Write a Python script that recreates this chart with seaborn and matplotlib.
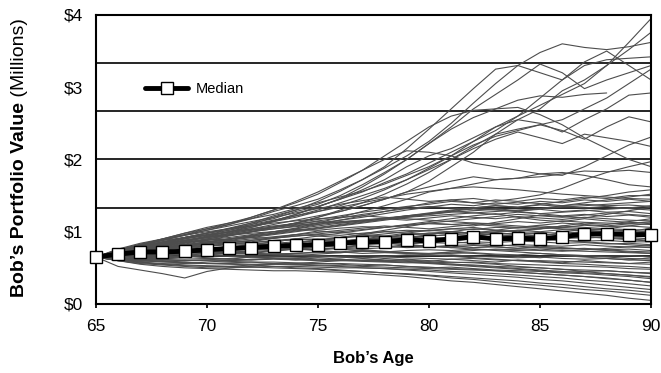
import numpy as np
import pandas as pd
import matplotlib
matplotlib.use("Agg")
import matplotlib.pyplot as plt
import seaborn as sns

sns.set_theme(style="white")
plt.rcParams['font.family'] = ['Liberation Sans', 'DejaVu Sans']
plt.rcParams['text.color'] = 'black'
plt.rcParams['axes.labelcolor'] = 'black'
plt.rcParams['xtick.color'] = 'black'
plt.rcParams['ytick.color'] = 'black'

ages = list(range(65, 91))

# median path (white squares)
median = [0.65, 0.69, 0.72, 0.72, 0.73, 0.75, 0.77, 0.78, 0.80, 0.81, 0.82, 0.84, 0.86,
          0.86, 0.89, 0.87, 0.90, 0.93, 0.90, 0.91, 0.90, 0.93, 0.97, 0.97, 0.96, 0.96]

nan = np.nan
# simulated portfolio paths, $ millions, one value per age 65..90
high_paths = [
    [0.65, 0.72, 0.80, 0.86, 0.92, 0.98, 1.05, 1.12, 1.18, 1.28, 1.35, 1.45, 1.58, 1.72, 1.90, 2.05, 2.15, 2.30, 2.45, 2.60, 2.75, 2.90, 3.05, 3.30, 3.62, 3.95],
    [0.65, 0.74, 0.82, 0.90, 0.98, 1.04, 1.10, 1.18, 1.28, 1.36, 1.45, 1.58, 1.72, 1.88, 2.05, 2.25, 2.50, 2.78, 3.05, 3.30, 3.48, 3.60, 3.55, 3.52, 3.56, 3.62],
    [0.65, 0.72, 0.78, 0.85, 0.92, 0.98, 1.02, 1.10, 1.20, 1.30, 1.42, 1.56, 1.72, 1.90, 2.15, 2.42, 2.70, 2.98, 3.25, 3.30, 3.20, 3.10, 3.35, 3.50, 3.30, 3.10],
    [0.65, 0.70, 0.76, 0.82, 0.88, 0.92, 0.98, 1.04, 1.10, 1.16, 1.22, 1.28, 1.36, 1.45, 1.55, 1.70, 1.90, 2.10, 2.35, 2.55, 2.70, 2.95, 3.10, 3.30, 3.52, 3.76],
    [0.65, 0.70, 0.76, 0.84, 0.92, 0.98, 1.04, 1.12, 1.22, 1.30, 1.38, 1.50, 1.65, 1.82, 2.00, 2.22, 2.45, 2.70, 2.90, 3.10, 3.32, 3.20, 2.98, 3.10, 3.20, 3.30],
    [0.65, 0.71, 0.77, 0.83, 0.90, 0.95, 1.00, 1.06, 1.14, 1.20, 1.28, 1.36, 1.46, 1.58, 1.72, 1.88, 2.05, 2.25, 2.45, 2.55, 2.50, 2.38, 2.55, 2.70, 2.89, 2.92],
    [0.65, 0.70, 0.75, 0.80, 0.86, 0.93, 1.00, 1.08, 1.15, 1.24, 1.34, 1.46, 1.62, 1.80, 2.00, 2.22, 2.42, 2.58, 2.70, 2.82, 2.88, 2.86, 2.90, 2.92, nan, nan],
    [0.65, 0.69, 0.74, 0.79, 0.84, 0.90, 0.95, 1.00, 1.06, 1.12, 1.20, 1.30, 1.40, 1.52, 1.66, 1.82, 2.00, 2.18, 2.35, 2.42, 2.48, 2.40, 2.28, 2.45, 2.59, 2.52],
    [0.65, 0.73, 0.81, 0.88, 0.95, 1.02, 1.10, 1.20, 1.30, 1.40, 1.52, 1.68, 1.85, 2.05, 2.25, 2.45, 2.60, 2.68, 2.70, 2.72, 2.62, 2.48, 2.30, 2.15, 2.00, 1.90],
    [0.65, 0.68, 0.73, 0.78, 0.82, 0.86, 0.90, 0.95, 1.00, 1.05, 1.12, 1.20, 1.28, 1.36, 1.45, 1.55, 1.60, 1.66, 1.72, 1.74, 1.80, 1.78, 1.90, 2.05, 2.20, 2.31],
    [0.65, 0.68, 0.72, 0.76, 0.80, 0.85, 0.90, 0.94, 0.98, 1.04, 1.10, 1.16, 1.22, 1.28, 1.34, 1.40, 1.44, 1.46, 1.42, 1.46, 1.51, 1.60, 1.72, 1.82, 1.90, 1.97],
    [0.65, 0.72, 0.80, 0.88, 0.96, 1.04, 1.12, 1.20, 1.30, 1.42, 1.55, 1.70, 1.85, 2.00, 2.12, 2.10, 2.05, 1.95, 1.90, 1.85, 1.80, 1.82, 1.78, 1.72, 1.65, 1.62],
    [0.65, 0.70, 0.76, 0.82, 0.88, 0.94, 1.00, 1.06, 1.14, 1.22, 1.30, 1.40, 1.50, 1.60, 1.72, 1.86, 2.00, 2.15, 2.28, 2.38, 2.30, 2.22, 2.35, 2.30, 2.25, 2.18],
    [0.65, 0.71, 0.78, 0.85, 0.90, 0.96, 1.02, 1.08, 1.15, 1.24, 1.35, 1.45, 1.55, 1.68, 1.80, 1.95, 2.10, 2.25, 2.40, 2.60, 2.85, 3.10, 3.30, 3.38, 3.40, 3.42],
    [0.65, 0.70, 0.74, 0.78, 0.83, 0.88, 0.94, 1.00, 1.06, 1.12, 1.20, 1.28, 1.36, 1.45, 1.55, 1.62, 1.70, 1.76, 1.72, 1.74, 1.76, 1.80, 1.84, 1.83, 1.85, 1.82],
    [0.65, 0.73, 0.82, 0.90, 0.98, 1.06, 1.12, 1.18, 1.24, 1.32, 1.40, 1.48, 1.56, 1.66, 1.78, 1.90, 2.05, 2.20, 2.32, 2.40, 2.48, 2.55, 2.70, 2.85, 3.05, 3.25],
]

band_paths = [
    [0.65, 0.60, 0.55, 0.52, 0.50, 0.49, 0.48, 0.47, 0.46, 0.46, 0.45, 0.44, 0.42, 0.40, 0.38, 0.35, 0.32, 0.30, 0.27, 0.24, 0.21, 0.18, 0.15, 0.12, 0.08, 0.05],
    [0.65, 0.52, 0.47, 0.42, 0.36, 0.45, 0.50, 0.52, 0.55, 0.56, 0.58, 0.60, 0.61, 0.60, 0.62, 0.60, 0.58, 0.57, 0.55, 0.52, 0.50, 0.48, 0.45, 0.42, 0.40, 0.37],
    [0.65, 0.62, 0.58, 0.55, 0.53, 0.52, 0.52, 0.51, 0.50, 0.49, 0.48, 0.46, 0.45, 0.43, 0.41, 0.39, 0.36, 0.34, 0.31, 0.28, 0.26, 0.23, 0.20, 0.18, 0.15, 0.12],
    [0.65, 0.63, 0.60, 0.58, 0.57, 0.56, 0.56, 0.55, 0.55, 0.54, 0.53, 0.52, 0.50, 0.49, 0.47, 0.45, 0.43, 0.41, 0.39, 0.37, 0.34, 0.32, 0.29, 0.26, 0.23, 0.20],
    [0.65, 0.60, 0.56, 0.54, 0.52, 0.50, 0.50, 0.51, 0.52, 0.52, 0.51, 0.50, 0.50, 0.49, 0.48, 0.47, 0.45, 0.44, 0.42, 0.40, 0.38, 0.36, 0.33, 0.31, 0.28, 0.25],
    [0.65, 0.64, 0.62, 0.61, 0.60, 0.60, 0.59, 0.58, 0.58, 0.57, 0.56, 0.56, 0.55, 0.54, 0.52, 0.51, 0.49, 0.48, 0.46, 0.44, 0.42, 0.40, 0.38, 0.35, 0.33, 0.30],
    [0.65, 0.61, 0.59, 0.60, 0.58, 0.56, 0.57, 0.58, 0.56, 0.55, 0.56, 0.55, 0.53, 0.54, 0.52, 0.50, 0.51, 0.49, 0.47, 0.46, 0.45, 0.43, 0.42, 0.40, 0.38, 0.35],
    [0.65, 0.66, 0.64, 0.63, 0.62, 0.63, 0.62, 0.61, 0.62, 0.61, 0.60, 0.60, 0.59, 0.58, 0.57, 0.57, 0.55, 0.54, 0.52, 0.51, 0.50, 0.48, 0.47, 0.46, 0.44, 0.42],
    [0.65, 0.62, 0.60, 0.59, 0.60, 0.61, 0.60, 0.62, 0.63, 0.62, 0.61, 0.62, 0.60, 0.59, 0.60, 0.58, 0.57, 0.58, 0.56, 0.55, 0.54, 0.53, 0.52, 0.51, 0.49, 0.48],
    [0.65, 0.67, 0.66, 0.65, 0.66, 0.67, 0.66, 0.65, 0.66, 0.67, 0.66, 0.65, 0.64, 0.65, 0.64, 0.63, 0.62, 0.63, 0.61, 0.60, 0.60, 0.59, 0.58, 0.57, 0.56, 0.55],
    [0.65, 0.60, 0.57, 0.55, 0.56, 0.58, 0.60, 0.61, 0.63, 0.64, 0.65, 0.66, 0.67, 0.66, 0.68, 0.67, 0.68, 0.66, 0.65, 0.64, 0.65, 0.63, 0.62, 0.63, 0.61, 0.60],
    [0.65, 0.68, 0.70, 0.69, 0.68, 0.70, 0.71, 0.70, 0.69, 0.70, 0.71, 0.72, 0.70, 0.71, 0.70, 0.69, 0.70, 0.71, 0.69, 0.68, 0.70, 0.68, 0.67, 0.66, 0.67, 0.65],
    [0.65, 0.63, 0.64, 0.66, 0.65, 0.67, 0.68, 0.67, 0.69, 0.70, 0.72, 0.71, 0.73, 0.72, 0.74, 0.75, 0.74, 0.76, 0.75, 0.74, 0.76, 0.74, 0.73, 0.72, 0.71, 0.70],
    [0.65, 0.70, 0.72, 0.70, 0.73, 0.75, 0.74, 0.76, 0.78, 0.77, 0.76, 0.78, 0.79, 0.80, 0.78, 0.79, 0.80, 0.78, 0.79, 0.77, 0.78, 0.76, 0.77, 0.75, 0.76, 0.74],
    [0.65, 0.66, 0.68, 0.67, 0.70, 0.72, 0.71, 0.73, 0.74, 0.76, 0.75, 0.77, 0.76, 0.78, 0.80, 0.79, 0.81, 0.82, 0.80, 0.82, 0.81, 0.80, 0.82, 0.80, 0.79, 0.78],
    [0.65, 0.69, 0.67, 0.70, 0.72, 0.71, 0.74, 0.76, 0.75, 0.78, 0.80, 0.79, 0.82, 0.84, 0.83, 0.85, 0.84, 0.86, 0.85, 0.87, 0.86, 0.84, 0.85, 0.83, 0.84, 0.82],
    [0.65, 0.67, 0.70, 0.72, 0.74, 0.73, 0.76, 0.78, 0.80, 0.79, 0.82, 0.84, 0.83, 0.86, 0.85, 0.88, 0.87, 0.90, 0.89, 0.88, 0.90, 0.88, 0.87, 0.88, 0.86, 0.86],
    [0.65, 0.70, 0.73, 0.72, 0.75, 0.78, 0.77, 0.80, 0.82, 0.81, 0.84, 0.86, 0.85, 0.88, 0.90, 0.89, 0.92, 0.90, 0.93, 0.91, 0.94, 0.92, 0.91, 0.93, 0.92, 0.90],
    [0.65, 0.68, 0.71, 0.74, 0.73, 0.76, 0.79, 0.78, 0.81, 0.84, 0.83, 0.86, 0.88, 0.87, 0.90, 0.92, 0.91, 0.94, 0.93, 0.96, 0.95, 0.97, 0.96, 0.95, 0.96, 0.94],
    [0.65, 0.71, 0.74, 0.76, 0.78, 0.80, 0.82, 0.81, 0.84, 0.86, 0.88, 0.87, 0.90, 0.92, 0.91, 0.94, 0.96, 0.95, 0.98, 0.97, 0.99, 0.98, 1.00, 0.99, 1.00, 0.98],
    [0.65, 0.72, 0.76, 0.79, 0.81, 0.83, 0.86, 0.85, 0.88, 0.90, 0.89, 0.92, 0.94, 0.93, 0.96, 0.98, 0.97, 1.00, 0.99, 1.02, 1.00, 1.03, 1.01, 1.04, 1.03, 1.02],
    [0.65, 0.73, 0.78, 0.82, 0.85, 0.88, 0.90, 0.92, 0.91, 0.94, 0.96, 0.95, 0.98, 1.00, 1.02, 1.01, 1.04, 1.03, 1.06, 1.05, 1.08, 1.06, 1.09, 1.07, 1.08, 1.06],
    [0.65, 0.74, 0.80, 0.84, 0.88, 0.92, 0.95, 0.98, 1.00, 1.03, 1.02, 1.05, 1.07, 1.06, 1.09, 1.11, 1.10, 1.12, 1.11, 1.14, 1.12, 1.15, 1.13, 1.12, 1.11, 1.10],
    [0.65, 0.75, 0.82, 0.88, 0.92, 0.96, 1.00, 1.04, 1.08, 1.11, 1.14, 1.12, 1.15, 1.18, 1.16, 1.19, 1.22, 1.20, 1.18, 1.21, 1.19, 1.17, 1.20, 1.18, 1.16, 1.15],
    [0.65, 0.72, 0.77, 0.81, 0.85, 0.89, 0.92, 0.96, 1.00, 1.04, 1.08, 1.12, 1.15, 1.18, 1.22, 1.25, 1.28, 1.26, 1.24, 1.27, 1.25, 1.22, 1.24, 1.21, 1.23, 1.20],
    [0.65, 0.74, 0.79, 0.84, 0.88, 0.93, 0.97, 1.02, 1.06, 1.10, 1.15, 1.19, 1.24, 1.28, 1.32, 1.35, 1.33, 1.30, 1.32, 1.29, 1.31, 1.28, 1.30, 1.27, 1.28, 1.25],
    [0.65, 0.70, 0.74, 0.78, 0.82, 0.86, 0.90, 0.94, 0.98, 1.02, 1.06, 1.10, 1.14, 1.18, 1.22, 1.26, 1.30, 1.33, 1.36, 1.34, 1.37, 1.35, 1.33, 1.35, 1.32, 1.30],
    [0.65, 0.76, 0.84, 0.90, 0.96, 1.02, 1.08, 1.14, 1.20, 1.26, 1.32, 1.38, 1.43, 1.48, 1.45, 1.42, 1.44, 1.40, 1.38, 1.41, 1.39, 1.36, 1.38, 1.36, 1.37, 1.35],
    [0.65, 0.71, 0.76, 0.80, 0.85, 0.90, 0.95, 1.00, 1.04, 1.08, 1.12, 1.16, 1.20, 1.25, 1.30, 1.34, 1.38, 1.36, 1.40, 1.38, 1.42, 1.40, 1.44, 1.42, 1.45, 1.42],
    [0.65, 0.73, 0.78, 0.83, 0.87, 0.92, 0.97, 1.02, 1.07, 1.12, 1.17, 1.22, 1.27, 1.31, 1.35, 1.38, 1.42, 1.40, 1.44, 1.42, 1.46, 1.44, 1.48, 1.46, 1.50, 1.50],
    [0.65, 0.69, 0.73, 0.77, 0.81, 0.85, 0.89, 0.93, 0.97, 1.01, 1.05, 1.09, 1.13, 1.17, 1.21, 1.25, 1.29, 1.33, 1.36, 1.34, 1.38, 1.42, 1.46, 1.50, 1.55, 1.58],
    [0.65, 0.62, 0.64, 0.67, 0.70, 0.73, 0.76, 0.79, 0.82, 0.85, 0.88, 0.91, 0.94, 0.97, 1.00, 1.02, 1.04, 1.06, 1.02, 0.99, 0.97, 0.95, 0.93, 0.92, 0.90, 0.88],
    [0.65, 0.69, 0.72, 0.75, 0.78, 0.80, 0.83, 0.85, 0.87, 0.89, 0.90, 0.88, 0.86, 0.84, 0.82, 0.80, 0.78, 0.76, 0.74, 0.72, 0.70, 0.68, 0.67, 0.65, 0.63, 0.62],
    [0.65, 0.70, 0.74, 0.77, 0.80, 0.82, 0.84, 0.83, 0.82, 0.80, 0.78, 0.76, 0.74, 0.72, 0.70, 0.68, 0.66, 0.64, 0.62, 0.60, 0.58, 0.56, 0.55, 0.53, 0.52, 0.50],
    [0.65, 0.66, 0.67, 0.68, 0.69, 0.70, 0.71, 0.70, 0.69, 0.68, 0.67, 0.65, 0.63, 0.61, 0.59, 0.57, 0.55, 0.53, 0.51, 0.49, 0.47, 0.45, 0.43, 0.42, 0.40, 0.38],
    [0.65, 0.60, 0.63, 0.66, 0.70, 0.74, 0.78, 0.82, 0.86, 0.90, 0.94, 0.98, 1.02, 1.06, 1.10, 1.14, 1.18, 1.22, 1.25, 1.20, 1.16, 1.14, 1.18, 1.15, 1.13, 1.12],
    [0.65, 0.75, 0.83, 0.89, 0.95, 1.00, 1.04, 1.08, 1.12, 1.15, 1.18, 1.20, 1.22, 1.20, 1.18, 1.16, 1.14, 1.12, 1.10, 1.08, 1.06, 1.04, 1.02, 1.00, 0.98, 0.96],
    [0.65, 0.67, 0.69, 0.71, 0.73, 0.75, 0.77, 0.79, 0.81, 0.83, 0.85, 0.87, 0.89, 0.91, 0.90, 0.88, 0.86, 0.84, 0.82, 0.80, 0.78, 0.77, 0.76, 0.75, 0.73, 0.72],
    [0.65, 0.72, 0.79, 0.86, 0.92, 0.98, 1.04, 1.10, 1.16, 1.22, 1.28, 1.34, 1.40, 1.46, 1.52, 1.56, 1.60, 1.62, 1.60, 1.58, 1.55, 1.52, 1.50, 1.48, 1.46, 1.45],
    [0.65, 0.63, 0.61, 0.59, 0.57, 0.56, 0.55, 0.54, 0.52, 0.50, 0.49, 0.47, 0.45, 0.43, 0.42, 0.40, 0.38, 0.36, 0.34, 0.32, 0.29, 0.27, 0.24, 0.21, 0.19, 0.16],
    [0.65, 0.62, 0.60, 0.62, 0.65, 0.68, 0.71, 0.74, 0.77, 0.80, 0.83, 0.86, 0.89, 0.92, 0.95, 0.98, 1.00, 0.98, 0.95, 0.92, 0.90, 0.88, 0.86, 0.84, 0.82, 0.80],
    [0.65, 0.66, 0.68, 0.70, 0.72, 0.74, 0.76, 0.78, 0.80, 0.82, 0.84, 0.86, 0.88, 0.90, 0.92, 0.94, 0.96, 0.98, 1.00, 1.02, 1.04, 1.06, 1.04, 1.03, 1.01, 1.00],
    [0.65, 0.70, 0.68, 0.72, 0.76, 0.74, 0.78, 0.82, 0.80, 0.84, 0.88, 0.86, 0.90, 0.94, 0.92, 0.96, 1.00, 0.98, 1.02, 1.06, 1.04, 1.08, 1.12, 1.10, 1.14, 1.18],
    [0.65, 0.68, 0.74, 0.72, 0.70, 0.75, 0.80, 0.78, 0.76, 0.81, 0.86, 0.84, 0.82, 0.87, 0.92, 0.90, 0.88, 0.93, 0.98, 0.96, 0.94, 0.99, 1.04, 1.02, 1.00, 1.05],
    [0.65, 0.71, 0.77, 0.82, 0.87, 0.92, 0.96, 1.00, 1.04, 1.07, 1.10, 1.13, 1.16, 1.19, 1.22, 1.24, 1.27, 1.29, 1.31, 1.28, 1.25, 1.27, 1.29, 1.31, 1.33, 1.36],
    [0.65, 0.64, 0.66, 0.69, 0.67, 0.70, 0.73, 0.71, 0.74, 0.77, 0.75, 0.78, 0.81, 0.79, 0.82, 0.80, 0.78, 0.81, 0.79, 0.77, 0.80, 0.78, 0.76, 0.74, 0.72, 0.70],
    [0.65, 0.67, 0.65, 0.63, 0.66, 0.64, 0.62, 0.65, 0.63, 0.61, 0.64, 0.62, 0.60, 0.63, 0.61, 0.59, 0.62, 0.60, 0.58, 0.61, 0.59, 0.57, 0.60, 0.58, 0.56, 0.58],
    [0.65, 0.73, 0.80, 0.86, 0.91, 0.95, 0.99, 1.03, 1.06, 1.09, 1.12, 1.14, 1.16, 1.18, 1.20, 1.22, 1.24, 1.26, 1.28, 1.30, 1.32, 1.34, 1.36, 1.38, 1.40, 1.42],
    [0.65, 0.69, 0.73, 0.77, 0.81, 0.84, 0.87, 0.90, 0.93, 0.96, 0.99, 1.02, 1.05, 1.08, 1.06, 1.04, 1.07, 1.10, 1.08, 1.06, 1.09, 1.12, 1.10, 1.08, 1.11, 1.14],
    [0.65, 0.66, 0.70, 0.74, 0.78, 0.82, 0.85, 0.88, 0.91, 0.94, 0.97, 1.00, 1.03, 1.06, 1.09, 1.12, 1.15, 1.18, 1.21, 1.24, 1.22, 1.20, 1.23, 1.26, 1.24, 1.22],
    [0.65, 0.62, 0.65, 0.68, 0.71, 0.74, 0.72, 0.70, 0.73, 0.76, 0.74, 0.72, 0.75, 0.73, 0.71, 0.69, 0.72, 0.70, 0.68, 0.66, 0.64, 0.67, 0.65, 0.63, 0.61, 0.64],
    [0.65, 0.70, 0.75, 0.80, 0.85, 0.90, 0.88, 0.86, 0.91, 0.96, 1.01, 0.99, 0.97, 1.02, 1.07, 1.12, 1.10, 1.08, 1.13, 1.18, 1.23, 1.21, 1.19, 1.24, 1.29, 1.34],
    [0.65, 0.63, 0.62, 0.64, 0.66, 0.68, 0.70, 0.69, 0.68, 0.67, 0.69, 0.71, 0.73, 0.72, 0.71, 0.70, 0.72, 0.74, 0.76, 0.75, 0.74, 0.73, 0.75, 0.77, 0.79, 0.81],
    [0.65, 0.72, 0.78, 0.83, 0.88, 0.86, 0.84, 0.88, 0.92, 0.96, 0.94, 0.92, 0.96, 1.00, 0.98, 0.96, 1.00, 1.04, 1.02, 1.00, 1.04, 1.08, 1.06, 1.04, 1.08, 1.12],
    [0.65, 0.66, 0.64, 0.62, 0.60, 0.61, 0.63, 0.65, 0.64, 0.63, 0.62, 0.61, 0.60, 0.59, 0.58, 0.56, 0.54, 0.52, 0.50, 0.48, 0.46, 0.44, 0.45, 0.46, 0.44, 0.43],
    [0.65, 0.68, 0.72, 0.76, 0.80, 0.84, 0.88, 0.92, 0.96, 1.00, 1.04, 1.08, 1.12, 1.16, 1.20, 1.24, 1.28, 1.32, 1.30, 1.28, 1.32, 1.36, 1.40, 1.44, 1.48, 1.52],
    [0.65, 0.61, 0.58, 0.56, 0.54, 0.53, 0.52, 0.54, 0.56, 0.55, 0.54, 0.53, 0.52, 0.51, 0.50, 0.49, 0.48, 0.47, 0.46, 0.44, 0.42, 0.40, 0.38, 0.36, 0.33, 0.30],
    [0.65, 0.70, 0.74, 0.78, 0.76, 0.80, 0.84, 0.82, 0.86, 0.90, 0.88, 0.92, 0.96, 0.94, 0.98, 1.02, 1.00, 0.98, 0.96, 0.94, 0.92, 0.90, 0.93, 0.91, 0.89, 0.87],
]

rows = []
for i, p in enumerate(high_paths + band_paths):
    for a, v in zip(ages, p):
        rows.append((i, a, v))
df = pd.DataFrame(rows, columns=['path', 'age', 'value']).dropna()

fig = plt.figure(figsize=(6.61, 3.73), dpi=100)
ax = fig.add_axes([0.145, 0.185, 0.84, 0.775])

sns.lineplot(data=df, x='age', y='value', units='path', estimator=None,
             color='0.3', lw=0.8, ax=ax, legend=False)

# gridlines every 2/3 of a million, like the original
for g in np.arange(1, 6) * 4 / 6:
    ax.axhline(g, color='black', lw=1.2, zorder=1.5)

sns.lineplot(x=ages, y=median, color='black', lw=3.5, marker='s', markersize=8,
             markerfacecolor='white', markeredgecolor='black', markeredgewidth=1,
             label='Median', ax=ax, clip_on=False, zorder=5)

ax.set_xlim(65, 90)
ax.set_ylim(0, 4)
ax.set_xticks([65, 70, 75, 80, 85, 90])
ax.set_yticks([0, 1, 2, 3, 4])
ax.set_yticklabels(['$0', '$1', '$2', '$3', '$4'])
ax.tick_params(axis='x', labelsize=12.5, length=3, direction='out', bottom=True, pad=8)
ax.tick_params(axis='y', labelsize=12.5, length=0, pad=9)
for s in ax.spines.values():
    s.set_color('black')
    s.set_linewidth(1.5)

ax.set_xlabel("Bob\u2019s Age", fontsize=12, fontweight='bold', labelpad=12)
ax.set_ylabel('')

t1 = fig.text(0.03, 0.204, "Bob\u2019s Portfolio Value", rotation=90, fontsize=14,
              fontweight='bold', ha='center', va='bottom')
ax.annotate(" (Millions)", xy=(0.5, 1.0), xycoords=t1, rotation=90, fontsize=14,
            ha='center', va='bottom', annotation_clip=False)

leg = ax.legend(loc='center left', bbox_to_anchor=(0.088, 0.744), frameon=False,
                fontsize=10.5, handlelength=3, handletextpad=0.5,
                borderpad=0, borderaxespad=0)

fig.savefig('out.png', dpi=100)
